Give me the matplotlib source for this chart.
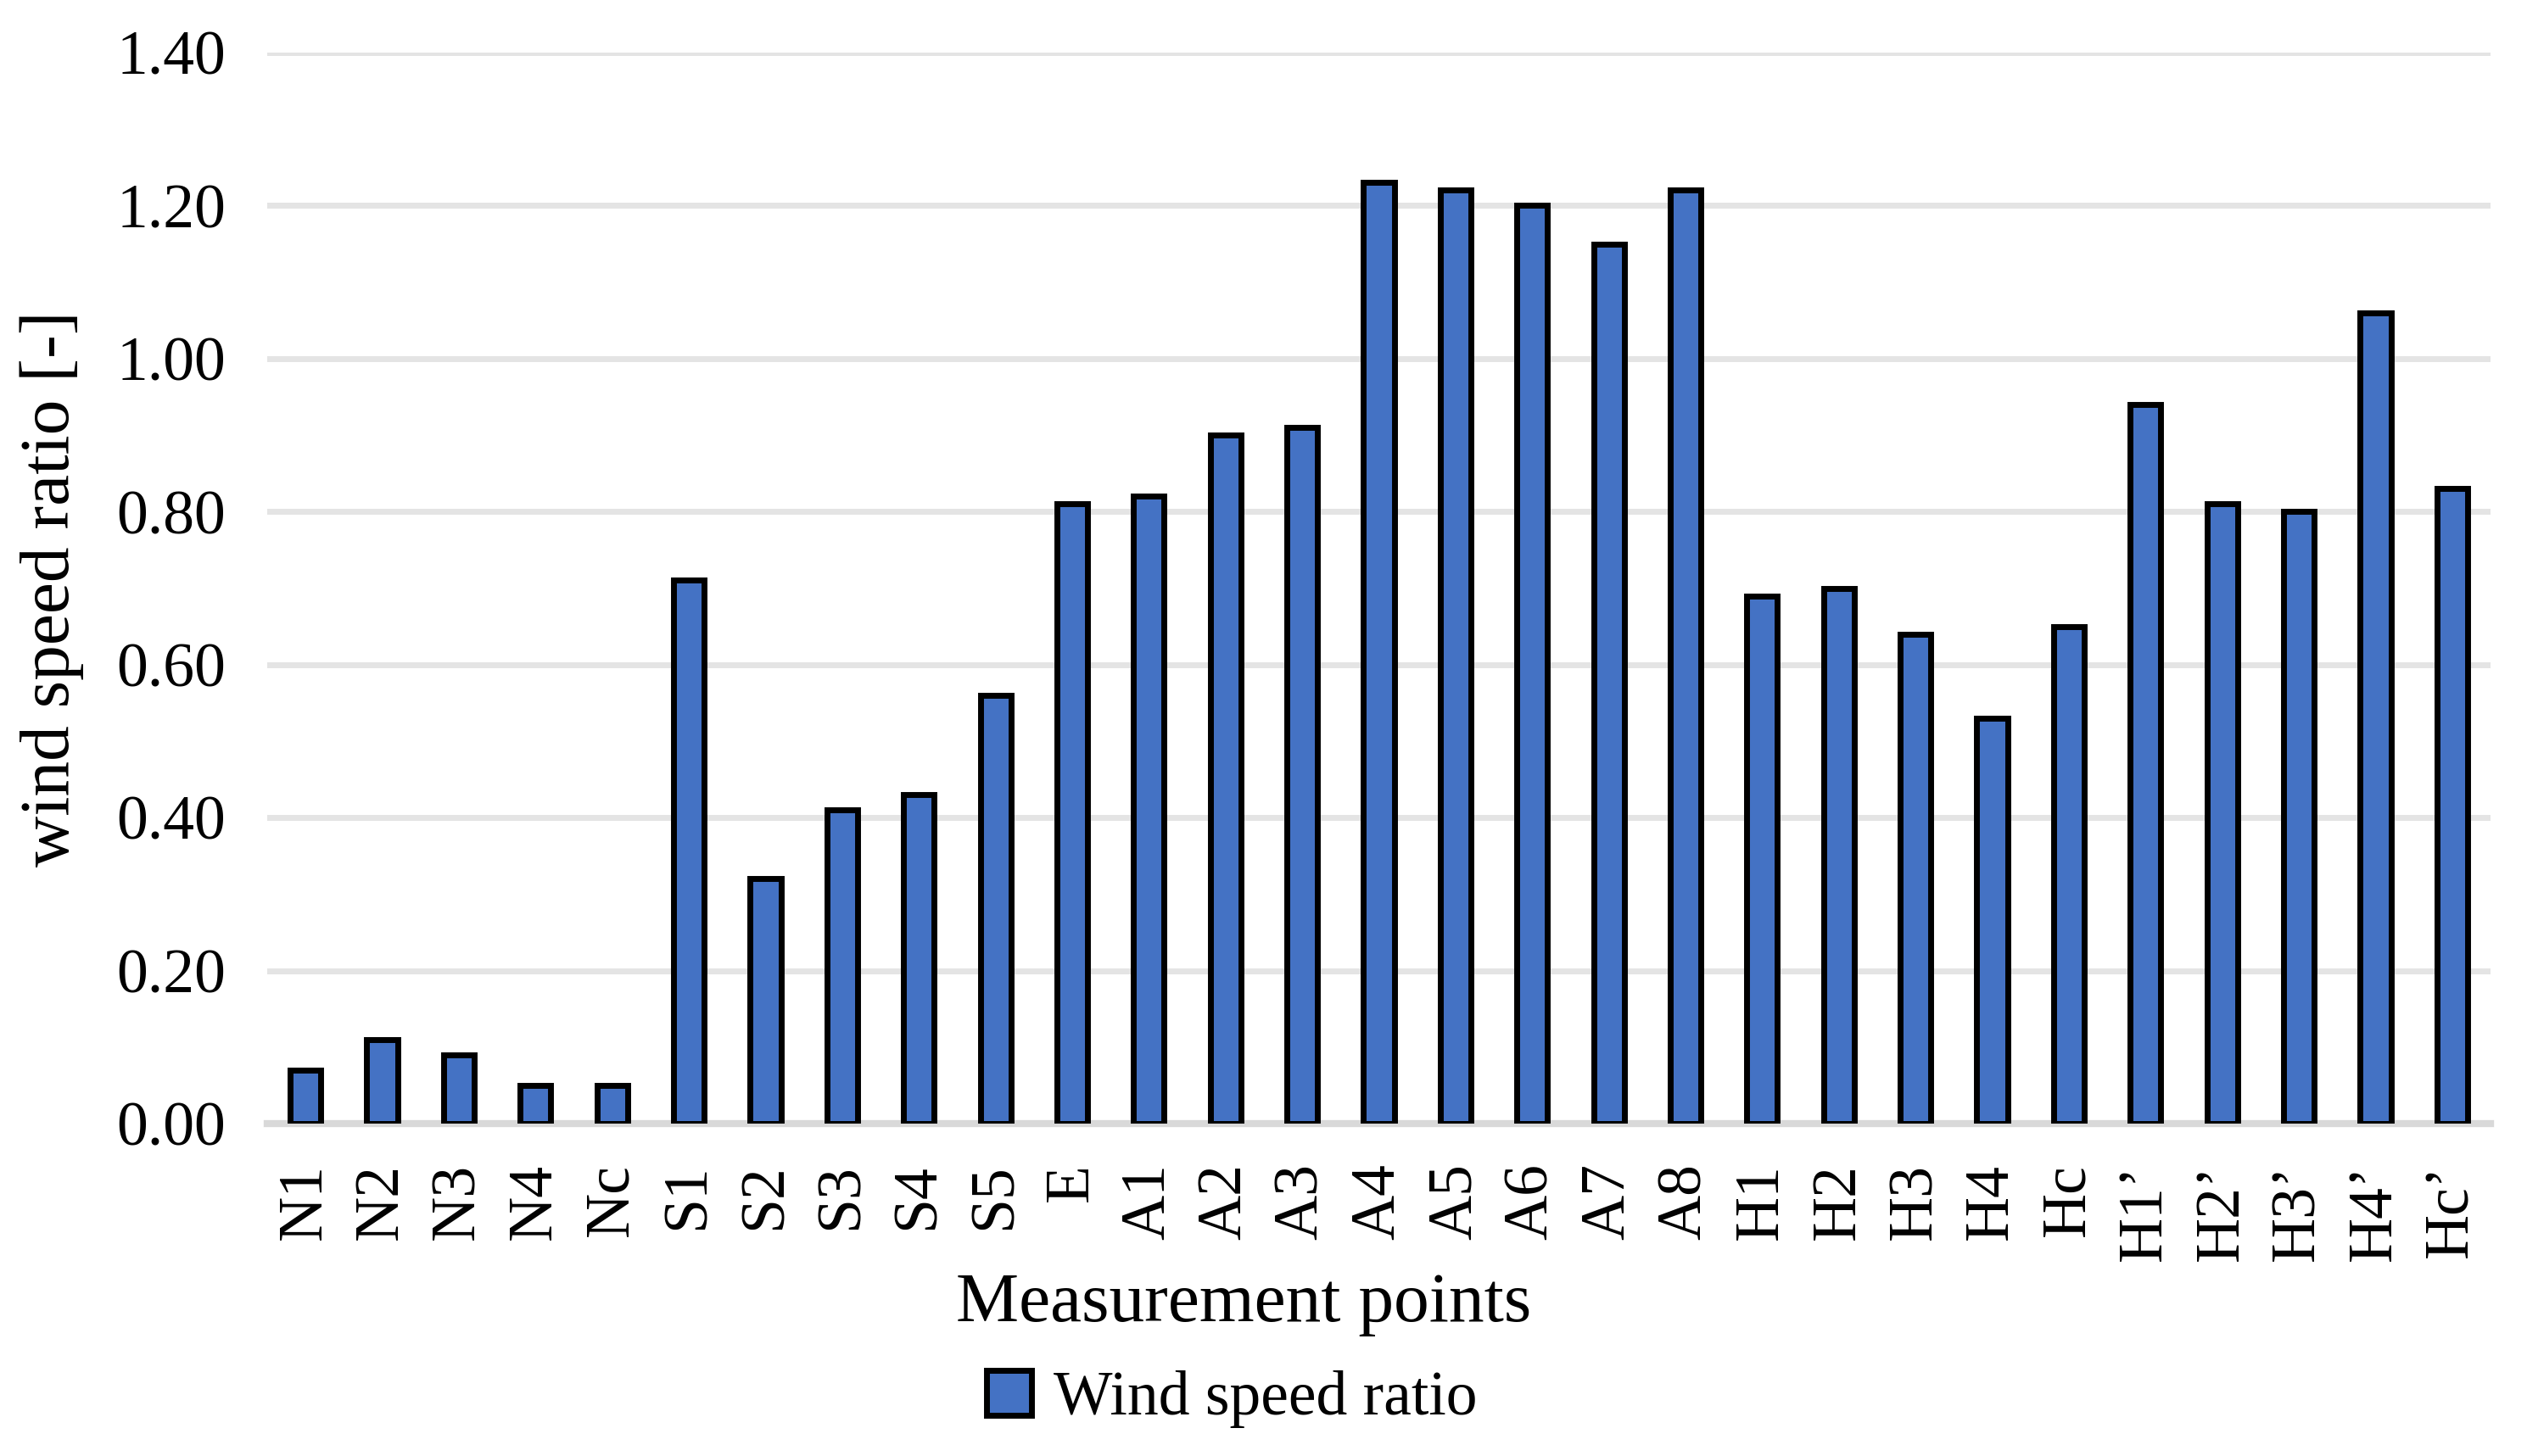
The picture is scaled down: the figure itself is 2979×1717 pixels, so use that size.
import matplotlib
matplotlib.use("Agg")
import matplotlib.pyplot as plt
import numpy as np

categories = ["N1", "N2", "N3", "N4", "Nc", "S1", "S2", "S3", "S4", "S5", "E",
              "A1", "A2", "A3", "A4", "A5", "A6", "A7", "A8",
              "H1", "H2", "H3", "H4", "Hc", "H1’", "H2’", "H3’", "H4’", "Hc’"]
values = [0.07, 0.11, 0.09, 0.05, 0.05, 0.71, 0.32, 0.41, 0.43, 0.56, 0.81,
          0.82, 0.90, 0.91, 1.23, 1.22, 1.20, 1.15, 1.22,
          0.69, 0.70, 0.64, 0.53, 0.65, 0.94, 0.81, 0.80, 1.06, 0.83]
yticks = [0.0, 0.2, 0.4, 0.6, 0.8, 1.0, 1.2, 1.4]
series_name = "Wind speed ratio"
x_title = "Measurement points"
y_title = "wind speed ratio [-]"

plt.rcParams['font.family'] = ['Liberation Serif', 'DejaVu Serif']

W, H = 2979, 1717
fig = plt.figure(figsize=(W / 100, H / 100), dpi=100)
left, right, top, bottom = 315, 2936, 62, 1325
ax = fig.add_axes([left / W, 1 - bottom / H, (right - left) / W, (bottom - top) / H])

x = np.arange(len(categories))
bars = ax.bar(x, values, width=0.40, color="#4472C4", edgecolor="black",
              linewidth=5, label=series_name, zorder=3)

ax.set_xlim(-0.5, len(categories) - 0.5)
ax.set_ylim(0, 1.4)
ax.set_yticks(yticks)
ax.set_yticklabels([f"{v:.2f}" for v in yticks])
ax.set_xticks(x)
ax.set_xticklabels(categories, rotation=90, va="top")
ax.tick_params(axis="both", length=0, labelsize=53)
ax.tick_params(axis="y", pad=35)
ax.tick_params(axis="x", pad=34)

for s in ax.spines.values():
    s.set_visible(False)
ax.yaxis.grid(True, color="#e4e4e4", linewidth=5, zorder=0)
ax.set_axisbelow(True)
ax.axhline(0, color="#d9d9d9", linewidth=6, zorder=2, clip_on=False)

fig.text(61 / W, 1 - 694 / H, y_title, rotation=90, ha="center", va="center",
         fontsize=60)
fig.text(1466 / W, 1 - 1558 / H, x_title, ha="center", va="baseline",
         fontsize=60)

leg = fig.legend(handles=[bars], labels=[series_name], loc="center",
                 bbox_to_anchor=(0.4874, 0.039), frameon=False, fontsize=53,
                 handlelength=0.72, handleheight=0.72, handletextpad=0.35)

fig.savefig("out.png", dpi=100)
